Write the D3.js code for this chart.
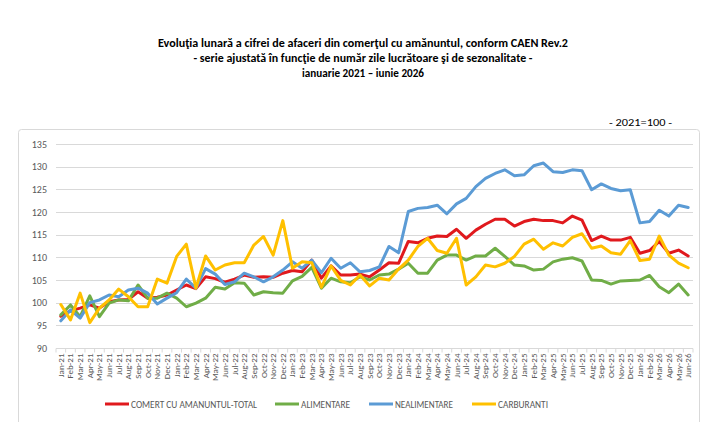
<!DOCTYPE html>
<html>
<head>
<meta charset="utf-8">
<script src="https://cdn.jsdelivr.net/npm/d3@7"></script>
<style>
  body { margin: 0; background: #fff; }
  svg { font-family: Carlito, "Open Sans", "Noto Sans", sans-serif; }
</style>
</head>
<body>
<div id="chart"></div>
<script>
// Month labels Jan-21 .. Jun-26
const monthNames = ["Jan", "Feb", "Mar", "Apr", "May", "Jun", "Jul", "Aug", "Sep", "Oct", "Nov", "Dec"];
const years = ["21", "22", "23", "24", "25", "26"];
const months = years.flatMap(y => monthNames.map(m => `${m}-${y}`)).slice(0, 66);

const total = [
  97, 98.2, 98.8, 99.5, 98.8, 100.2, 100.6, 100.7, 102.4, 101, 101.2, 101.7,
  102.8, 103.9, 103.1, 105.7, 105.3, 104.5, 105.2, 106.1, 105.6, 105.7, 105.6, 106.5,
  107.1, 106.8, 109.4, 105.4, 108.1, 106.1, 106.1, 106.3, 105.7, 107.2, 108.8, 108.7,
  113.5, 113.2, 114.2, 114.7, 114.6, 116.2, 114.2, 116, 117.3, 118.4, 118.4, 116.9,
  117.9, 118.4, 118.1, 118.1, 117.6, 119.1, 118.2, 113.7, 114.7, 113.8, 113.8, 114.4,
  110.9, 111.5, 113.5, 110.9, 111.6, 110.3
];
const alimentare = [
  97.3, 99.5, 96.9, 101.5, 96.9, 99.9, 100.6, 100.4, 103.9, 101, 101, 102.1,
  101, 99.1, 99.9, 101, 103.4, 103, 104.4, 104.3, 101.7, 102.4, 102.2, 102.1,
  104.8, 105.8, 107.8, 103.2, 105.4, 104.6, 104.4, 105.7, 105, 106.1, 106.3, 107.4,
  108.7, 106.5, 106.5, 109.4, 110.5, 110.5, 109.4, 110.3, 110.3, 112, 110.2, 108.3,
  108.1, 107.2, 107.4, 109, 109.6, 109.9, 109.2, 105, 104.9, 104.1, 104.8, 104.9,
  105, 106, 103.5, 102.2, 104.1, 101.7
];
const nealimentare = [
  96, 98.4, 96.6, 100, 100.6, 101.7, 101.3, 102.8, 103.2, 102.1, 99.7, 101,
  102.2, 105.2, 103.2, 107.5, 106.3, 104, 104.6, 106.5, 105.7, 104.6, 105.7, 107.2,
  109, 107.6, 109.4, 106.6, 109.8, 107.6, 108.8, 106.8, 107.1, 107.9, 112.4, 111,
  120.1, 120.8, 121, 121.5, 119.6, 121.8, 123, 125.6, 127.4, 128.5, 129.3, 128,
  128.2, 130.2, 130.8, 128.9, 128.7, 129.3, 129.1, 124.9, 126.2, 125.2, 124.7, 124.9,
  117.6, 117.9, 120.4, 119.1, 121.5, 121
];
const carburanti = [
  99.6, 96.2, 102.1, 95.6, 98.8, 100.6, 103, 101.3, 99.1, 99.1, 105.2, 104.3,
  110.2, 112.9, 103.2, 110.3, 107.2, 108.3, 108.8, 108.8, 112.7, 114.6, 110.5, 118.1,
  107.6, 109, 108.8, 103.4, 108.1, 104.9, 103.9, 106.1, 103.7, 105.4, 105, 107.4,
  109.4, 112.4, 114.2, 111.5, 110.9, 114.2, 103.9, 105.7, 108.3, 107.9, 108.7, 110.2,
  112.9, 114, 111.8, 113.2, 112.5, 114.4, 115.2, 112, 112.5, 111, 110.7, 113.7,
  109.3, 109.6, 114.7, 110.5, 108.7, 107.7
];

const seriesNames = ["COMERT CU AMANUNTUL-TOTAL", "ALIMENTARE", "NEALIMENTARE", "CARBURANTI"];
const seriesColors = ["#e0191d", "#70ad47", "#5b9bd5", "#ffc000"];
const seriesValues = [total, alimentare, nealimentare, carburanti];
const yTicks = [90, 95, 100, 105, 110, 115, 120, 125, 130, 135];

const titleLines = [
  "Evoluţia lunară a cifrei de afaceri din comerţul cu amănuntul, conform CAEN Rev.2",
  "- serie ajustată în funcţie de număr zile lucrătoare şi de sezonalitate -",
  "ianuarie 2021 – iunie 2026"
];
const titleWidths = [410, 339, 122];

const width = 725, height = 422;
const margin = { left: 56, right: 32, top: 144, bottom: 74 };

const svg = d3.select("#chart").append("svg")
  .attr("width", width)
  .attr("height", height);

// Chart frame
svg.append("rect")
  .attr("x", 18.5).attr("y", 129.5)
  .attr("width", 681).attr("height", 320)
  .attr("rx", 3)
  .attr("fill", "none")
  .attr("stroke", "#d9d9d9");

// Title
svg.append("g")
  .attr("text-anchor", "middle")
  .style("font-weight", "bold")
  .style("font-size", "11.5px")
  .attr("fill", "#000")
  .selectAll("text")
  .data(titleLines)
  .join("text")
    .attr("x", 363)
    .attr("y", (d, i) => 47 + i * 15)
    .attr("textLength", (d, i) => titleWidths[i])
    .attr("lengthAdjust", "spacingAndGlyphs")
    .text(d => d);

svg.append("text")
  .attr("x", 609).attr("y", 126)
  .attr("textLength", 63)
  .attr("lengthAdjust", "spacingAndGlyphs")
  .style("font-size", "10.5px")
  .attr("fill", "#000")
  .text("- 2021=100 -");

const x = d3.scaleBand()
  .domain(months)
  .range([margin.left, width - margin.right]);

const y = d3.scaleLinear()
  .domain([90, 135])
  .range([height - margin.bottom, margin.top]);

// Grid lines
svg.append("g")
  .selectAll("line")
  .data(yTicks)
  .join("line")
    .attr("x1", margin.left)
    .attr("x2", width - margin.right)
    .attr("y1", d => Math.round(y(d)) + 0.5)
    .attr("y2", d => Math.round(y(d)) + 0.5)
    .attr("stroke", "#d9d9d9")
    .attr("stroke-width", 1);

// Y axis labels
svg.append("g")
  .attr("text-anchor", "end")
  .style("font-size", "10px")
  .attr("fill", "#595959")
  .selectAll("text")
  .data(yTicks)
  .join("text")
    .attr("x", 47)
    .attr("y", d => y(d) + 3.5)
    .text(d => d);

// X axis ticks between categories
const xAxis = svg.append("g")
  .attr("transform", `translate(0,${Math.round(y(90)) + 0.5})`);
xAxis.selectAll("line")
  .data(months.concat(["end"]))
  .join("line")
    .attr("x1", (d, i) => margin.left + i * x.step())
    .attr("x2", (d, i) => margin.left + i * x.step())
    .attr("y1", 0).attr("y2", 4)
    .attr("stroke", "#d9d9d9");

xAxis.selectAll("text")
  .data(months)
  .join("text")
    .attr("transform", d => `translate(${x(d) + x.bandwidth() / 2 + 3},5) rotate(-90)`)
    .attr("text-anchor", "end")
    .style("font-size", "9px")
    .attr("fill", "#595959")
    .text(d => d);

// Lines
const line = d3.line()
  .x((d, i) => x(months[i]) + x.bandwidth() / 2)
  .y(d => y(d));

svg.append("g")
  .selectAll("path")
  .data(seriesValues)
  .join("path")
    .attr("d", line)
    .attr("fill", "none")
    .attr("stroke", (d, i) => seriesColors[i])
    .attr("stroke-width", 3)
    .attr("stroke-linejoin", "round")
    .attr("stroke-linecap", "round");

// Legend
const legendX = [105, 275, 369, 472];
const legendTextW = [126, 49, 58, 50];
const legend = svg.append("g")
  .selectAll("g")
  .data(seriesNames)
  .join("g")
    .attr("transform", (d, i) => `translate(${legendX[i]},404)`);
legend.append("line")
  .attr("x1", 0).attr("x2", 24)
  .attr("stroke", (d, i) => seriesColors[i])
  .attr("stroke-width", 3);
legend.append("text")
  .attr("x", 26).attr("y", 3.5)
  .attr("textLength", (d, i) => legendTextW[i])
  .attr("lengthAdjust", "spacingAndGlyphs")
  .style("font-size", "10.5px")
  .attr("fill", "#595959")
  .text(d => d);
</script>
</body>
</html>
